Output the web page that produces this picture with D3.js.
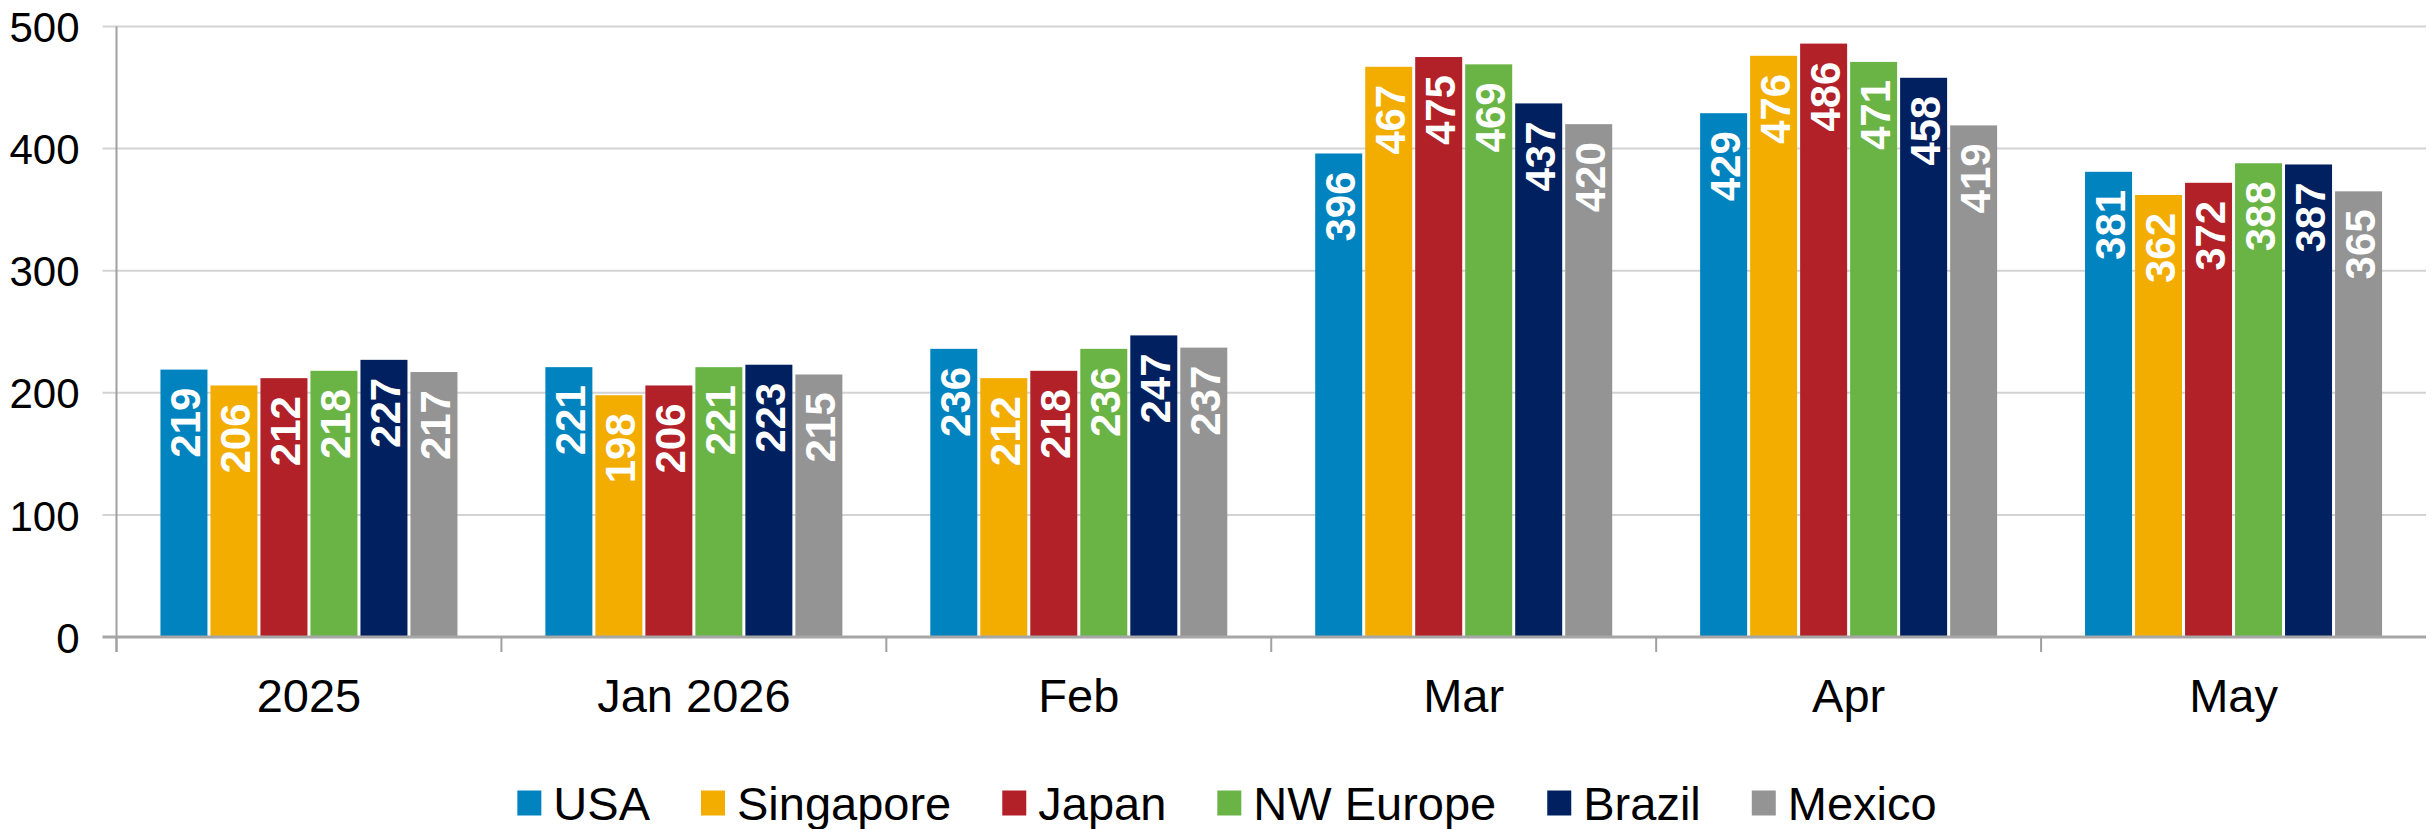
<!DOCTYPE html>
<html>
<head>
<meta charset="utf-8">
<script src="https://cdn.jsdelivr.net/npm/d3@7"></script>
<style>
	body { margin:0; background:#fff; }
	svg text { font-family: "Liberation Sans", Arial, sans-serif; }
</style>
</head>
<body>
<svg id="chart" width="2433" height="829"></svg>
<script>
// data
var categories = ["2025", "Jan 2026", "Feb", "Mar", "Apr", "May"];
var series = ["USA", "Singapore", "Japan", "NW Europe", "Brazil", "Mexico"];
var colors = ["#0083be", "#f2ad00", "#b22028", "#6ab446", "#00205f", "#949494"];
var usa = [219, 221, 236, 396, 429, 381];
var singapore = [206, 198, 212, 467, 476, 362];
var japan = [212, 206, 218, 475, 486, 372];
var nwEurope = [218, 221, 236, 469, 471, 388];
var brazil = [227, 223, 247, 437, 458, 387];
var mexico = [217, 215, 237, 420, 419, 365];
var yTicks = [0, 100, 200, 300, 400, 500];

var values = [usa, singapore, japan, nwEurope, brazil, mexico];

var rows = [];
categories.forEach(function(c, i) {
	series.forEach(function(s, j) {
		rows.push({cat: c, ser: s, val: values[j][i], col: colors[j]});
	});
});

var margin = {top: 26.5, left: 116.5, right: 7, bottom: 192};
var svgW = 2433, svgH = 829;
var width = svgW - margin.left - margin.right;
var height = svgH - margin.top - margin.bottom;

var svg = d3.select("svg#chart")
	.append("g")
	.attr("transform", "translate(" + margin.left + "," + margin.top + ")");

var x0 = d3.scaleBand().domain(categories).range([0, width]).paddingInner(0).paddingOuter(0);
var pad = (x0.bandwidth() - 297) / 2;
var x1 = d3.scaleBand().domain(series).range([pad, x0.bandwidth() - pad]).paddingInner(0.06).paddingOuter(0);
var y = d3.scaleLinear().domain([0, 500]).range([height, 0]);

// gridlines
svg.append("g").selectAll("line")
	.data(yTicks.filter(function(d){ return d > 0; }))
	.enter()
	.append("line")
	.attr("x1", -14).attr("x2", width)
	.attr("y1", function(d){ return y(d); })
	.attr("y2", function(d){ return y(d); })
	.style("stroke", "#d3d3d3")
	.style("stroke-width", 2);

// y axis labels
var yAxis = d3.axisLeft(y).tickValues(yTicks).tickSize(0).tickPadding(37);
var gy = svg.append("g").call(yAxis);
gy.select(".domain").remove();
gy.selectAll("text")
	.style("font-size", "42px")
	.style("fill", "#000")
	.attr("dy", "0.36em");

// bars
svg.append("g").selectAll("rect")
	.data(rows)
	.enter()
	.append("rect")
	.attr("x", function(d){ return x0(d.cat) + x1(d.ser); })
	.attr("width", x1.bandwidth())
	.attr("y", function(d){ return y(d.val); })
	.attr("height", function(d){ return y(0) - y(d.val); })
	.style("fill", function(d){ return d.col; });

// value labels
svg.append("g").selectAll("text")
	.data(rows)
	.enter()
	.append("text")
	.attr("transform", function(d){
		var cx = x0(d.cat) + x1(d.ser) + x1.bandwidth() / 2 + 1;
		return "translate(" + cx + "," + (y(d.val) + 18) + ") rotate(-90)";
	})
	.attr("text-anchor", "end")
	.attr("dy", "0.36em")
	.style("font-size", "42px")
	.style("font-weight", "bold")
	.style("fill", "#fff")
	.text(function(d){ return d.val; });

// y axis line
svg.append("line")
	.attr("x1", 0).attr("x2", 0)
	.attr("y1", y(500)).attr("y2", y(0) + 15)
	.style("stroke", "#a0a0a0")
	.style("stroke-width", 2);

// zero line
svg.append("line")
	.attr("x1", -14).attr("x2", width)
	.attr("y1", y(0)).attr("y2", y(0))
	.style("stroke", "#a6a6a6")
	.style("stroke-width", 3);

// category ticks at band edges (none at the far right)
svg.append("g").selectAll("line")
	.data(categories)
	.enter()
	.append("line")
	.attr("x1", function(d){ return x0(d); })
	.attr("x2", function(d){ return x0(d); })
	.attr("y1", y(0)).attr("y2", y(0) + 15)
	.style("stroke", "#a0a0a0")
	.style("stroke-width", 2);

// category labels
svg.append("g").selectAll("text")
	.data(categories)
	.enter()
	.append("text")
	.attr("x", function(d){ return x0(d) + x0.bandwidth() / 2; })
	.attr("y", y(0) + 75)
	.attr("text-anchor", "middle")
	.style("font-size", "47px")
	.style("fill", "#000")
	.text(function(d){ return d; });

// legend
var legend = d3.select("svg#chart").append("g");
var items = legend.selectAll("g")
	.data(series)
	.enter()
	.append("g");
items.append("rect")
	.attr("width", 24).attr("height", 25)
	.attr("y", -12.5)
	.style("fill", function(d, i){ return colors[i]; });
items.append("text")
	.attr("x", 36)
	.attr("dy", "0.36em")
	.style("font-size", "47px")
	.style("fill", "#000")
	.text(function(d){ return d; });

var gap = 51;
var widths = [];
items.each(function(){
	widths.push(36 + d3.select(this).select("text").node().getComputedTextLength());
});
var total = d3.sum(widths) + gap * (widths.length - 1);
var lx = 1227 - total / 2;
items.attr("transform", function(d, i){
	var t = "translate(" + lx + ",803)";
	lx += widths[i] + gap;
	return t;
});
</script>
</body>
</html>
